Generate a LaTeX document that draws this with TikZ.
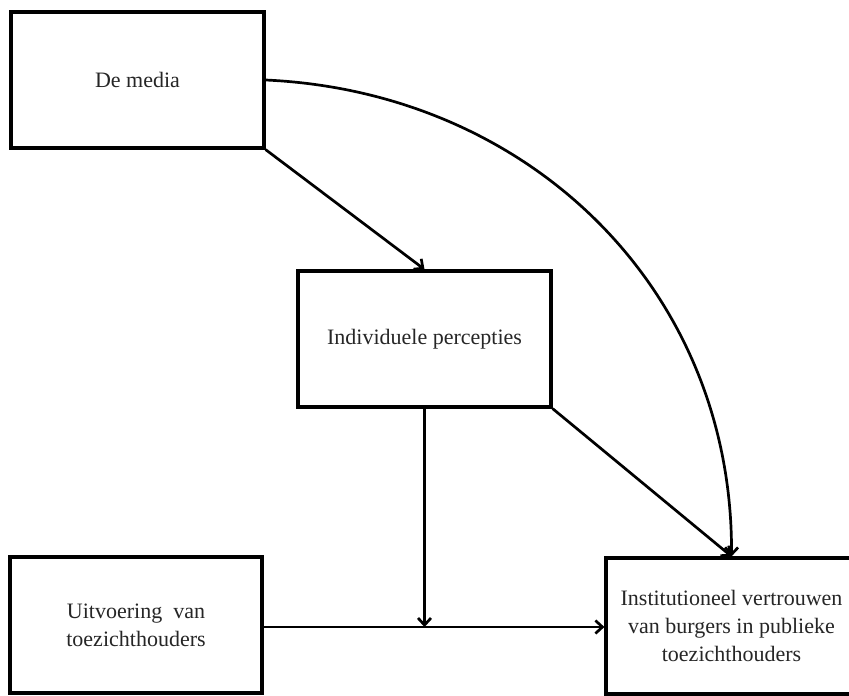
\documentclass[tikz,border=0pt]{standalone}
\usepackage{fontspec}
\setmainfont{Liberation Serif}
\usetikzlibrary{arrows.meta}
\begin{document}
\begin{tikzpicture}[x=1pt,y=-1pt,
  box/.style={draw, line width=3.2pt, minimum width=253pt, minimum height=136pt,
    align=center, inner sep=0pt, text=black!85,
    font=\fontsize{22}{28}\selectfont},
  conn/.style={line width=2.7pt, -{Straight Barb[length=7pt,width=13pt,line width=2.7pt]}}
]
\useasboundingbox[fill=white] (0,0) rectangle (849,696);
\node[box] (media) at (137.5,80) {De media};
\node[box] (perc) at (424.5,339) {Individuele percepties};
\node[box, minimum width=252pt] (uit) at (136,625) {Uitvoering\ \ van\\toezichthouders};
\node[box, minimum width=251pt] (inst) at (731.5,626) {Institutioneel vertrouwen\\van burgers in publieke\\toezichthouders};
\coordinate (j) at (perc.south |- 0,627);
\draw[conn] (media.south east) -- (perc.north);
\draw[conn] (media.east) .. controls (530,92) and (733,290) .. (inst.north);
\draw[conn] (perc.south east) -- (inst.north);
\draw[conn] (perc.south) -- (j);
\draw[conn] (uit.east |- 0,627) -- (inst.west |- 0,627);
\end{tikzpicture}
\end{document}
